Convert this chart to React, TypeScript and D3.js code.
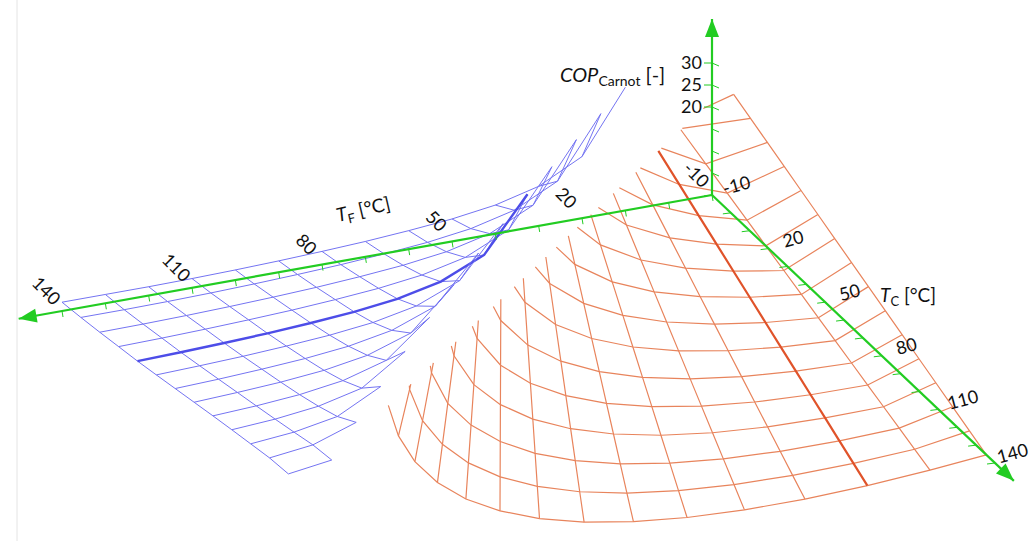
import React from 'react';
import * as d3 from 'd3';

// ---- data ----
const tfTickLabels = [-10, 20, 50, 80, 110, 140];
const tcTickLabels = [-10, 20, 50, 80, 110, 140];
const copTickLabels = [20, 25, 30];
const minorTemps = [-10, 0, 10, 20, 30, 40, 50, 60, 70, 80, 90, 100, 110, 120, 130, 140];
const minorCop = [5, 10, 15, 20, 25, 30];

// blue surface (rows = TC, columns = TF)
const blueTC = [-10, 0, 10, 20, 30, 40, 50, 60, 70, 80, 90, 100, 110];
const blueTF = [140, 130, 120, 110, 100, 90, 80, 70, 60, 50, 40, 30, 20, 10];
const blueRowBase = [2.0, 2.6, 3.3, 4.0, 4.6, 5.3, 6.0, 6.7, 7.4, 8.1, 8.8, 9.6, 10.5];
const blueLiftRise = [26, 12, 7, 4.5, 3.1, 2.2, 1.5, 1.0, 0.6, 0.3, 0.1, 0, 0, 0, 0];
const blueRiseScale = [1.0, 0.97, 0.94, 0.9, 0.86, 0.8, 0.74, 0.66, 0.57, 0.47, 0.36, 0.24, 0.1];
const blueThickTC = 30;

// orange surface (rows = TC, columns = TF)
const orangeTC = [-10, 0, 10, 20, 30, 40, 50, 60, 70, 80, 90, 100, 110, 120, 130, 140];
const orangeTF = [-10, 0, 10, 20, 30, 40, 50, 60, 70, 80, 90, 100, 110, 120];
const orangeThickTF = 10;
// corners of the orange sheet [TF, TC, COP]
const orangeRightTop = [-15, -10, 22];
const orangeRightBottom = [-8, 140, 2.2];
const orangeLeftTop = [-8, -10, 20];
const orangeLeftBottom = [130, 140, 37.7];

// ---- projection ----
const ORIGIN = [712, 195];
const tfX = d3.scaleLinear().domain([-10, 140]).range([0, -650]);
const tfY = d3.scaleLinear().domain([-10, 140]).range([0, 116]);
const tcX = d3.scaleLinear().domain([-10, 140]).range([0, 283]);
const tcY = d3.scaleLinear().domain([-10, 140]).range([0, 268]);
const copY = d3.scaleLinear().domain([0, 30]).range([0, -132]);
type P = [number, number];
const proj = (tf: number, tc: number, cop: number): P => [
  ORIGIN[0] + tfX(tf) + tcX(tc),
  ORIGIN[1] + tfY(tf) + tcY(tc) + copY(cop),
];
const line = d3.line<P>();

const GREEN = '#22cc22';
const BLUE = '#7474f2';
const ORANGE = '#e8845c';

function blueCop(k: number, tf: number) {
  const m = (tf - blueTC[k]) / 10 - 2;
  const rise = m < blueLiftRise.length ? blueLiftRise[m] : 0;
  return blueRowBase[k] + rise * blueRiseScale[k];
}
const blueRows = blueTC.map((tc, k) => ({
  thick: tc === blueThickTC,
  pts: blueTF.filter((tf) => tf - tc >= 20).map((tf) => proj(tf, tc, blueCop(k, tf))),
}));
const blueCols = blueTF.map((tf) =>
  blueTC.map((tc, k) => ({ tc, k })).filter((o) => tf - o.tc >= 20).map((o) => proj(tf, o.tc, blueCop(o.k, tf)))
);

const pRT = proj(orangeRightTop[0], orangeRightTop[1], orangeRightTop[2]);
const pRB = proj(orangeRightBottom[0], orangeRightBottom[1], orangeRightBottom[2]);
const pLT = proj(orangeLeftTop[0], orangeLeftTop[1], orangeLeftTop[2]);
const pLB = proj(orangeLeftBottom[0], orangeLeftBottom[1], orangeLeftBottom[2]);
const lerp = (a: P, b: P, t: number): P => [a[0] + (b[0] - a[0]) * t, a[1] + (b[1] - a[1]) * t];
const tScale = d3.scaleLinear().domain([orangeTC[0], orangeTC[orangeTC.length - 1]]).range([0, 1]);
const fScale = d3.scaleLinear().domain([orangeTF[0], orangeTF[orangeTF.length - 1] + 10]).range([0, 1]);
const Rt = (t: number) => lerp(pRT, pRB, t);
const Lt = (t: number) => lerp(pLT, pLB, t);
function bottom(u: number): P {
  const R = pRB, L = pLB;
  const D = [L[0] - R[0], L[1] - R[1]];
  const C: P = [R[0] + 0.9 * D[0] - 0.336 * -D[1], R[1] + 0.9 * D[1] - 0.336 * D[0]];
  const v = Math.pow(u, 1.12);
  const a = (1 - v) * (1 - v), b = 2 * v * (1 - v), c = v * v;
  return [a * R[0] + b * C[0] + c * L[0], a * R[1] + b * C[1] + c * L[1]];
}
function colPt(f: number, t: number): P {
  const s = (t - f) / (1 - f);
  return lerp(Lt(f), bottom(f), Math.pow(s, 0.85));
}
const orangeRows = orangeTC.map((tc) => {
  const t = tScale(tc);
  const pts: P[] = [Rt(t)];
  orangeTF.forEach((tf, j) => {
    if (j === 0) return;
    const f = fScale(tf);
    if (f < t) pts.push(colPt(f, t));
  });
  pts.push(Lt(t));
  return pts;
});
const orangeCols = orangeTF.map((tf, j) => {
  const f = fScale(tf);
  const pts: P[] = [];
  orangeTC.forEach((tc) => {
    const t = tScale(tc);
    if (j === 0) pts.push(Rt(t));
    else if (t >= f) pts.push(colPt(f, t));
  });
  if (j > 0) pts.unshift(Lt(f));
  return { thick: tf === orangeThickTF, pts };
});

const tfEnd = proj(150, -10, 0);
const tcEnd = proj(-10, 150, 0);
const copEnd = proj(-10, -10, 40);

function Arrow({ from, to }: { from: P; to: P }) {
  const ang = Math.atan2(to[1] - from[1], to[0] - from[0]);
  const L = 18, W = 7;
  const bx = to[0] - L * Math.cos(ang), by = to[1] - L * Math.sin(ang);
  const px = -Math.sin(ang) * W, py = Math.cos(ang) * W;
  return <path d={`M${to[0]},${to[1]}L${bx + px},${by + py}L${bx - px},${by - py}Z`} fill={GREEN} />;
}

const font = 'Lato, "Open Sans", sans-serif';

export default function App() {
  const O = proj(-10, -10, 0);
  return (
    <svg width={1031} height={541} style={{ position: 'absolute', left: 0, top: 0, background: '#fff' }}>
      <line x1={17} y1={0} x2={17} y2={541} stroke="#e4e4e4" strokeWidth={1} />
      <g fill="none">
        {blueCols.map((pts, i) => (
          <path key={'bc' + i} d={line(pts) || ''} stroke={BLUE} strokeWidth={1} />
        ))}
        {blueRows.map((r, i) => (
          <path key={'br' + i} d={line(r.pts) || ''} stroke={r.thick ? '#4d4de8' : BLUE} strokeWidth={r.thick ? 2.4 : 1} />
        ))}
      </g>
      <g fill="none">
        {orangeRows.map((pts, i) => (
          <path key={'or' + i} d={line(pts) || ''} stroke={ORANGE} strokeWidth={1.2} />
        ))}
        {orangeCols.map((c, i) => (
          <path key={'oc' + i} d={line(c.pts) || ''} stroke={c.thick ? '#e0532a' : ORANGE} strokeWidth={c.thick ? 2.2 : 1.2} />
        ))}
      </g>
      <g stroke={GREEN} strokeWidth={2.2}>
        <line x1={O[0]} y1={O[1]} x2={tfEnd[0]} y2={tfEnd[1]} />
        <line x1={O[0]} y1={O[1]} x2={tcEnd[0]} y2={tcEnd[1]} />
        <line x1={O[0]} y1={O[1]} x2={copEnd[0]} y2={copEnd[1]} />
      </g>
      <Arrow from={O} to={tfEnd} />
      <Arrow from={O} to={tcEnd} />
      <Arrow from={O} to={copEnd} />
      <g stroke={GREEN} strokeWidth={1}>
        {minorTemps.map((t) => {
          const p = proj(t, -10, 0);
          return <line key={'tf' + t} x1={p[0]} y1={p[1]} x2={p[0] + 1} y2={p[1] + 6} />;
        })}
        {minorTemps.map((t) => {
          const p = proj(-10, t, 0);
          return <line key={'tc' + t} x1={p[0]} y1={p[1]} x2={p[0] - 8} y2={p[1] + 1} />;
        })}
        {minorCop.map((c) => {
          const p = proj(-10, -10, c);
          return <line key={'cp' + c} x1={p[0]} y1={p[1]} x2={p[0] + 7} y2={p[1] + 3} />;
        })}
        {copTickLabels.map((c) => {
          const p = proj(-10, -10, c);
          return <line key={'cl' + c} x1={p[0] - 8} y1={p[1]} x2={p[0]} y2={p[1]} />;
        })}
      </g>
      <g fontFamily={font} fontSize={18} fill="#111">
        {tfTickLabels.map((t) => {
          const p = proj(t, -10, 0);
          const x = p[0] - 17, y = p[1] - 19;
          return (
            <text key={'tfl' + t} x={x} y={y} textAnchor="middle" dominantBaseline="middle" transform={`rotate(45 ${x} ${y})`}>
              {t}
            </text>
          );
        })}
        {tcTickLabels.map((t) => {
          const p = proj(-10, t, 0);
          const x = p[0] + (t === 140 ? 18 : 25), y = p[1] - 8;
          return (
            <text key={'tcl' + t} x={x} y={y} textAnchor="middle" dominantBaseline="middle" transform={`rotate(-15 ${x} ${y})`}>
              {t}
            </text>
          );
        })}
        {copTickLabels.map((c) => {
          const p = proj(-10, -10, c);
          return (
            <text key={'col' + c} x={p[0] - 10} y={p[1] + 1} textAnchor="end" dominantBaseline="middle">
              {c}
            </text>
          );
        })}
        <text x={560} y={82} fontSize={20}>
          <tspan fontStyle="italic">COP</tspan>
          <tspan fontSize={14} dy={4}>Carnot</tspan>
          <tspan dy={-4}> [-]</tspan>
        </text>
        <text x={338} y={222} fontSize={19} transform="rotate(-13 338 222)">
          <tspan fontStyle="italic">T</tspan>
          <tspan fontSize={13} dy={4}>F</tspan>
          <tspan dy={-4}> [°C]</tspan>
        </text>
        <text x={880} y={302} fontSize={19}>
          <tspan fontStyle="italic">T</tspan>
          <tspan fontSize={13} dy={4}>C</tspan>
          <tspan dy={-4}> [°C]</tspan>
        </text>
      </g>
    </svg>
  );
}
